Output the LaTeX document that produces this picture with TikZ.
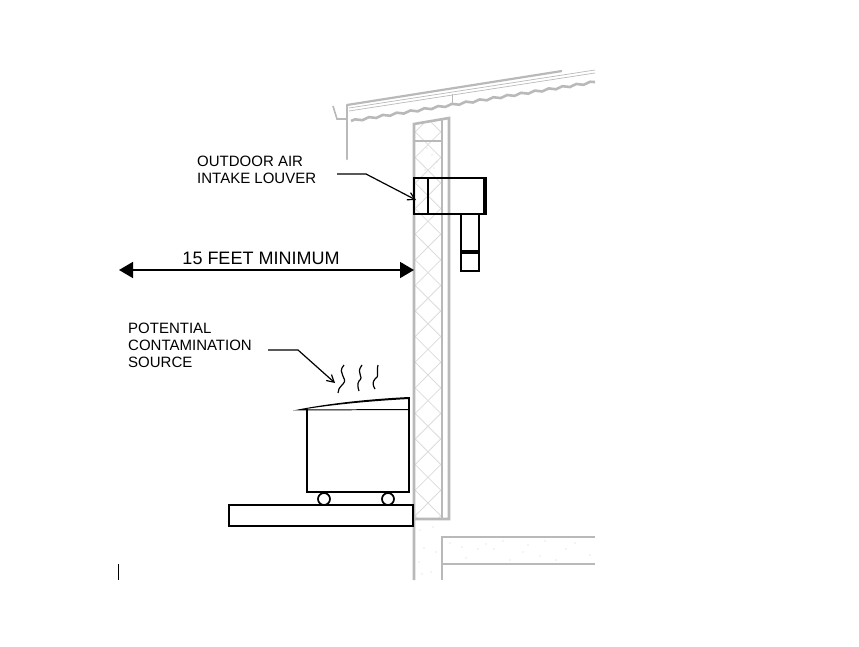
\documentclass[tikz,border=0pt]{standalone}
\usepackage{fontspec}
\setmainfont{Liberation Sans}
\usetikzlibrary{arrows.meta, decorations.pathmorphing}
\definecolor{wallgray}{HTML}{b9b9b9}
\definecolor{hatchgray}{HTML}{dcdcdc}
\colorlet{speckgray}{wallgray!70!white}
\tikzset{
  wallline/.style={draw=wallgray, line width=2.6pt},
  blackline/.style={draw=black, line width=1.7pt},
  leader/.style={draw=black, line width=1.2pt, -{Straight Barb[length=7pt, width=8pt]}},
  squiggle/.style={draw=black, line width=1.2pt},
  labeltext/.style={inner sep=0pt, align=left, anchor=north west, font=\fontsize{15}{17.3}\selectfont}
}

\begin{document}
\begin{tikzpicture}[x=1pt, y=-1pt]
  \useasboundingbox (0,0) rectangle (859,647);

  % crosshatch in the wall
  \begin{scope}
    \clip (414,124) -- (442,119) -- (442,519) -- (414,519) -- cycle;
    \foreach \k in {-1,...,16} {
      \draw[hatchgray, line width=0.8pt] (414,105+25.6*\k) -- (442,133+25.6*\k);
      \draw[hatchgray, line width=0.8pt] (442,105+25.6*\k) -- (414,133+25.6*\k);
    }
  \end{scope}

  % wall
  \draw[wallline] (414,580) -- (414,124) -- (449,118) -- (449,519) -- (414,519);
  \draw[wallgray, line width=1.2pt] (442,120) -- (442,519);
  \draw[wallgray, line width=1.2pt] (414,141) -- (442,141);

  % foundation and slab
  \draw[wallline] (442,580) -- (442,537) -- (595,537);
  \draw[wallline] (442,564) -- (595,564);
  \foreach \px/\py in {420/530, 433/527, 424/548, 436/552, 419/562, 431/572, 422/574,
      450/543, 462/547, 478/549, 494/549, 503/541, 523/552, 540/556, 545/541,
      566/549, 575/543, 590/555, 466/558, 510/560, 528/545, 556/560, 486/544} {
    \fill[speckgray] (\px,\py) circle (0.7pt);
  }
  \foreach \px/\py in {427/148, 432/155, 437/162, 425/170, 434/168} {
    \fill[speckgray] (\px,\py) circle (0.6pt);
  }

  % roof
  \draw[wallgray, line width=2.2pt] (347,105) -- (562,71);
  \draw[wallgray, line width=0.7pt] (349,108) -- (595,70);
  \draw[wallgray, line width=0.7pt] (349,111) -- (595,73);
  \draw[wallgray, line width=0.7pt] (452,94) -- (452,104);
  \draw[wallgray, line width=2.6pt, decorate,
    decoration={snake, amplitude=1pt, segment length=14pt}] (351,121) -- (595,82);

  % gutter
  \draw[wallline, line cap=round] (347,105) -- (347,159);
  \draw[wallgray, line width=1.6pt] (333,106) -- (337,119) -- (346,119);

  % louver and duct
  \draw[blackline] (414,178) rectangle (486,214);
  \draw[blackline] (428,178) -- (428,214);
  \fill[black] (483,178) rectangle (487,214);
  \draw[blackline] (461,214) -- (461,271) -- (479,271) -- (479,214);
  \fill[black] (461,250) rectangle (479,254);

  % container
  \draw[blackline] (307,409) -- (307,492) -- (409,492) -- (409,409);
  \fill[black] (293,410.5) .. controls (330,403) and (370,399) .. (409,397)
    -- (409,399) .. controls (370,401) and (330,405) .. (303,409.5) -- (409,409)
    -- (409,410) -- cycle;
  \draw[blackline] (409,397) -- (409,409);
  \draw[blackline] (324,499) circle (6);
  \draw[blackline] (388,499) circle (6);
  \draw[blackline] (229,505) rectangle (413,526);

  % fumes
  \draw[squiggle] (344,365) .. controls (336,374) and (349,378) .. (343,384) .. controls (339,388) and (338,390) .. (338,393);
  \draw[squiggle] (362,365) .. controls (355,374) and (365,376) .. (359,381) .. controls (357,384) and (358,388) .. (359,391);
  \draw[squiggle] (378,365) .. controls (376,374) and (380,376) .. (375,379) .. controls (372,382) and (373,386) .. (375,389);

  % labels
  \node[labeltext] (louverlabel) at (197,155.5) {OUTDOOR AIR\\INTAKE LOUVER};
  \node[labeltext] (sourcelabel) at (128,322.5) {POTENTIAL\\CONTAMINATION\\SOURCE};
  \node[inner sep=0pt, anchor=base, font=\fontsize{18}{20}\selectfont] (dimlabel) at (261,264) {15 FEET MINIMUM};

  % leaders
  \coordinate (louverstart) at (337,174);
  \coordinate (louverbend) at (366,174);
  \coordinate (louvertip) at (416,200);
  \draw[leader] (louverstart) -- (louverbend) -- (louvertip);
  \coordinate (sourcestart) at (268,350);
  \coordinate (sourcebend) at (298,350);
  \coordinate (sourcetip) at (335,383);
  \draw[leader] (sourcestart) -- (sourcebend) -- (sourcetip);

  % dimension
  \coordinate (dimleft) at (119,270);
  \coordinate (dimright) at (414,270);
  \draw[black, line width=1.7pt, {Triangle[length=14pt, width=16pt]}-{Triangle[length=14pt, width=16pt]}] (dimleft) -- (dimright);

  % mark at the lower left
  \draw[black, line width=0.8pt] (118,564) -- (118,580);
\end{tikzpicture}
\end{document}
